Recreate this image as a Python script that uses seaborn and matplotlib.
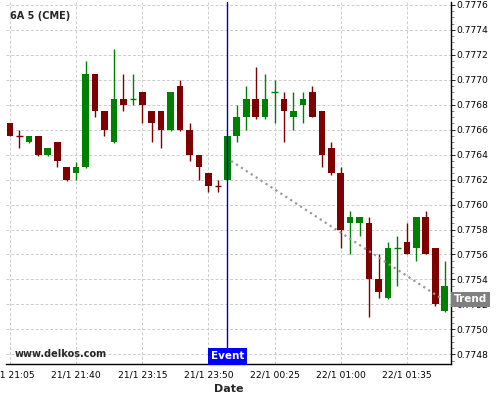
import matplotlib
matplotlib.use('Agg')
import matplotlib.pyplot as plt
import matplotlib.transforms as mtransforms
from matplotlib.ticker import MultipleLocator, AutoMinorLocator, FormatStrFormatter
import seaborn as sns
import numpy as np

# 5-minute candles, 6A futures (index based x axis)
opens = [0.77665, 0.77655, 0.77650, 0.77655, 0.77640, 0.77650, 0.77630, 0.77625,
         0.77630, 0.77705, 0.77675, 0.77650, 0.77685, 0.77685, 0.77690, 0.77675,
         0.77675, 0.77660, 0.77695, 0.77660, 0.77640, 0.77625, 0.77615, 0.77620,
         0.77655, 0.77670, 0.77685, 0.77670, 0.77690, 0.77685, 0.77670, 0.77680,
         0.77690, 0.77675, 0.77645, 0.77625, 0.77585, 0.77585, 0.77585, 0.77540,
         0.77525, 0.77565, 0.77570, 0.77565, 0.77590, 0.77565, 0.77515]
highs = [0.77665, 0.77660, 0.77655, 0.77655, 0.77645, 0.77650, 0.77630, 0.77634,
         0.77715, 0.77705, 0.77675, 0.77725, 0.77705, 0.77705, 0.77690, 0.77675,
         0.77675, 0.77690, 0.77700, 0.77665, 0.77640, 0.77625, 0.77620, 0.77655,
         0.77680, 0.77695, 0.77710, 0.77705, 0.77700, 0.77690, 0.77690, 0.77690,
         0.77695, 0.77675, 0.77650, 0.77630, 0.77595, 0.77590, 0.77590, 0.77560,
         0.77570, 0.77575, 0.77585, 0.77590, 0.77595, 0.77565, 0.77555]
lows = [0.77655, 0.77645, 0.77649, 0.77639, 0.77639, 0.77630, 0.77619, 0.77620,
        0.77629, 0.77670, 0.77655, 0.77649, 0.77675, 0.77680, 0.77665, 0.77650,
        0.77645, 0.77659, 0.77659, 0.77635, 0.77620, 0.77610, 0.77610, 0.77620,
        0.77650, 0.77660, 0.77669, 0.77669, 0.77665, 0.77650, 0.77660, 0.77665,
        0.77670, 0.77630, 0.77624, 0.77565, 0.77560, 0.77575, 0.77510, 0.77525,
        0.77524, 0.77535, 0.77560, 0.77555, 0.77560, 0.77519, 0.77514]
closes = [0.77655, 0.77655, 0.77655, 0.77640, 0.77645, 0.77635, 0.77620, 0.77630,
          0.77705, 0.77675, 0.77660, 0.77685, 0.77680, 0.77685, 0.77680, 0.77665,
          0.77660, 0.77690, 0.77660, 0.77640, 0.77630, 0.77615, 0.77615, 0.77655,
          0.77670, 0.77685, 0.77670, 0.77685, 0.77690, 0.77675, 0.77675, 0.77685,
          0.77670, 0.77640, 0.77625, 0.77580, 0.77590, 0.77590, 0.77540, 0.77530,
          0.77565, 0.77565, 0.77560, 0.77590, 0.77560, 0.77520, 0.77535]
doji_up = [13, 28, 41]

tick_pos = [0, 7, 14, 21, 28, 35, 42]
tick_labels = ['21/1 21:05', '21/1 21:40', '21/1 23:15', '21/1 23:50',
               '22/1 00:25', '22/1 01:00', '22/1 01:35']

event_idx = 23
trend_x = [23.4, 45.6]
trend_y = [0.77635, 0.77525]
trend_label_y = 0.77524

UP = '#008000'
DOWN = '#7f0000'

sns.set_style('white')
plt.rcParams['font.family'] = ['DejaVu Sans']

fig = plt.figure(figsize=(5, 4), dpi=100)
ax = fig.add_axes([0.012, 0.09, 0.89, 0.905])

o = np.array(opens)
c = np.array(closes)
x = np.arange(len(o))
colors = []
for i in x:
    if c[i] > o[i] or (c[i] == o[i] and i in doji_up):
        colors.append(UP)
    else:
        colors.append(DOWN)

# wicks
ax.vlines(x, lows, highs, colors=colors, linewidth=1.0, zorder=3)
# bodies
body_bottom = np.minimum(o, c)
body_height = np.abs(c - o)
ax.bar(x, body_height, bottom=body_bottom, width=0.7, color=colors,
       linewidth=0, zorder=4)
# doji crosses
doji = body_height == 0
ax.hlines(c[doji], x[doji] - 0.35, x[doji] + 0.35,
          colors=[colors[i] for i in x[doji]], linewidth=1.0, zorder=4)

# trend line
sns.lineplot(x=trend_x, y=trend_y, ax=ax, color='#999999', linestyle=':',
             linewidth=1.6, zorder=5)

# event line
ax.axvline(event_idx, color='#0000b0', linewidth=1.0, zorder=6)

ax.set_xlim(-0.42, 46.67)
ax.set_ylim(0.774722, 0.777624)

ax.set_xticks(tick_pos)
ax.set_xticklabels(tick_labels)
ax.xaxis.set_minor_locator(AutoMinorLocator(4))
ax.yaxis.set_major_locator(MultipleLocator(0.0002))
ax.yaxis.set_minor_locator(MultipleLocator(0.00005))
ax.yaxis.set_major_formatter(FormatStrFormatter('%.4f'))
ax.yaxis.tick_right()

ax.tick_params(axis='x', which='major', direction='inout', length=4, width=0.6,
               labelsize=6.6, pad=3, colors='black')
ax.tick_params(axis='x', which='minor', direction='inout', length=3, width=0.5,
               colors='#555555')
ax.tick_params(axis='y', which='major', direction='out', length=3, width=0.6,
               labelsize=6.6, pad=1, colors='black')
ax.tick_params(axis='y', which='minor', direction='out', length=2, width=0.5,
               colors='#555555')

ax.grid(True, which='major', color='#cccccc', linestyle=(0, (3, 2)),
        linewidth=0.7)
ax.set_axisbelow(True)

for side in ['left', 'top']:
    ax.spines[side].set_visible(False)
for side in ['right', 'bottom']:
    ax.spines[side].set_color('black')
    ax.spines[side].set_linewidth(1.0)

ax.set_xlabel('Date', fontsize=8, fontweight='bold', labelpad=3)
ax.set_ylabel('')

# labels
fig.text(0.02, 0.961, '6A 5 (CME)', fontsize=7, fontweight='bold',
         va='center', ha='left')
fig.text(0.03, 0.115, 'www.delkos.com', fontsize=7, fontweight='bold',
         va='center', ha='left')

trans_ev = mtransforms.blended_transform_factory(ax.transData, ax.transAxes)
ax.text(event_idx, 0.021, 'Event', transform=trans_ev, ha='center',
        va='center', fontsize=7.5, fontweight='bold', color='white', zorder=8,
        bbox=dict(boxstyle='square,pad=0.3', facecolor='#0000ff',
                  edgecolor='none'))

trans_tr = mtransforms.blended_transform_factory(ax.transAxes, ax.transData)
ax.text(1.006, trend_label_y, 'Trend', transform=trans_tr, ha='left',
        va='center', fontsize=7.5, fontweight='bold', color='white', zorder=8,
        clip_on=False,
        bbox=dict(boxstyle='square,pad=0.25', facecolor='#808080',
                  edgecolor='none'))

fig.savefig('out.png', dpi=100)
plt.close(fig)
